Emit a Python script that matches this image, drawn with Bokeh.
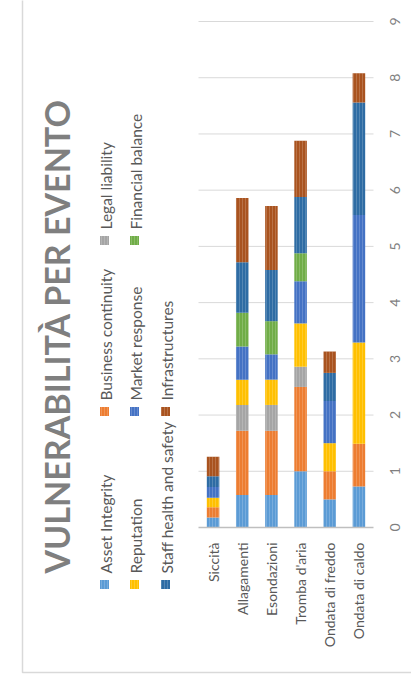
import math
from bokeh.plotting import figure
from bokeh.models import Range1d, ColumnDataSource
from bokeh.core.properties import value
from bokeh.embed import file_html
from bokeh.resources import INLINE

# ---------------- data ----------------
categories = ["Siccità", "Allagamenti", "Esondazioni", "Tromba d'aria",
              "Ondata di freddo", "Ondata di caldo"]
series_names = ["Asset Integrity", "Business continuity", "Legal liability",
                "Reputation", "Market response", "Financial balance",
                "Staff health and safety", "Infrastructures"]
asset_integrity = [0.18, 0.58, 0.58, 1.00, 0.50, 0.73]
business_continuity = [0.18, 1.14, 1.14, 1.50, 0.50, 0.76]
legal_liability = [0.00, 0.46, 0.46, 0.36, 0.00, 0.00]
reputation = [0.17, 0.45, 0.45, 0.77, 0.50, 1.80]
market_response = [0.19, 0.59, 0.45, 0.75, 0.75, 2.27]
financial_balance = [0.00, 0.60, 0.59, 0.50, 0.00, 0.00]
staff_health = [0.19, 0.90, 0.91, 1.00, 0.50, 2.00]
infrastructures = [0.35, 1.14, 1.14, 1.00, 0.38, 0.52]
value_ticks = [0, 1, 2, 3, 4, 5, 6, 7, 8, 9]
value_tick_labels = ["0", "1", "2", "3", "4", "5", "6", "7", "8", "9"]
title_text = "VULNERABILITÀ PER EVENTO"

colors = ["#5b9bd5", "#ed7d31", "#a5a5a5", "#ffc000",
          "#4472c4", "#70ad47", "#2e6ca4", "#a9531f"]

# ---------------- layout (pixels) ----------------
W, H = 411, 681
FL, FR, FT, FB = 198, 373, 21, 527          # plotting area of the bars
n = len(categories)
ux = (FR - FL) / n                          # px per category
uy = (FB - FT) / value_ticks[-1]            # px per value unit
x0 = -0.5 - FL / ux
x1 = n - 0.5 + (W - FR) / ux
y0 = -(H - FB) / uy
y1 = value_ticks[-1] + FT / uy


def dx(px):
    return x0 + px / ux


def dy(py):
    return y1 - py / uy


idx = list(range(n))
keys = ["s%d" % i for i in range(8)]
data = dict(x=idx)
for k, vals in zip(keys, [asset_integrity, business_continuity, legal_liability,
                          reputation, market_response, financial_balance,
                          staff_health, infrastructures]):
    data[k] = vals
src = ColumnDataSource(data)

p = figure(width=W, height=H, x_range=Range1d(x0, x1), y_range=Range1d(y0, y1),
           output_backend="svg", toolbar_location=None,
           min_border=0, min_border_left=0, min_border_right=0,
           min_border_top=0, min_border_bottom=0)
p.axis.visible = False
p.grid.visible = False
p.outline_line_color = None
p.background_fill_color = "white"
p.border_fill_color = "white"

# outer chart border
p.line(x=[dx(22), dx(22), dx(W + 5)], y=[dy(-5), dy(672), dy(672)],
       line_color="#d9d9d9", line_width=1.5)

# gridlines
p.segment(x0=[-0.5] * len(value_ticks[1:]), x1=[n - 0.5] * len(value_ticks[1:]),
          y0=value_ticks[1:], y1=value_ticks[1:], line_color="#d9d9d9", line_width=1)

# bars
p.vbar_stack(keys, x="x", width=0.43, source=src, color=colors,
             line_color=None, hatch_pattern="vertical_line",
             hatch_color="white", hatch_alpha=0.18, hatch_scale=3,
             hatch_weight=1)

# category axis line
p.segment(x0=[-0.5], x1=[n - 0.5], y0=[0], y1=[0], line_color="#bfbfbf",
          line_width=1.5)

# category labels
p.text(x=idx, y=[dy(FB + 15)] * n, text=categories, angle=math.pi / 2,
       text_align="right", text_baseline="middle", text_font=value("Lato"),
       text_font_size="14px", text_color="#595959")

# value labels
p.text(x=[dx(394)] * len(value_ticks), y=value_ticks, text=value_tick_labels,
       angle=math.pi / 2, text_align="center", text_baseline="middle",
       text_font=value("Lato"), text_font_size="14px", text_color="#7f7f7f")

# title (rotated)
p.text(x=[dx(56)], y=[dy(573)], text=[title_text], angle=math.pi / 2,
       text_align="left", text_baseline="middle", text_font=value("Lato"),
       text_font_style="bold", text_font_size="34px", text_color="#7f7f7f")

# legend (rotated)
col_x = [105, 135, 166]
row_y = [584, 411, 240]
lx, ly, tx, ty = [], [], [], []
for i, name in enumerate(series_names):
    c, r = i // 3, i % 3
    lx.append(dx(col_x[c] - 1))
    ly.append(dy(row_y[r]))
    tx.append(dx(col_x[c]))
    ty.append(dy(row_y[r] - 11))
p.rect(x=lx, y=ly, width=9, height=9, width_units="screen", height_units="screen",
       fill_color=colors, line_color=None, hatch_pattern="vertical_line",
       hatch_color="white", hatch_alpha=0.18, hatch_scale=3, hatch_weight=1)
p.text(x=tx, y=ty, text=series_names, angle=math.pi / 2, text_align="left",
       text_baseline="middle", text_font=value("Lato"), text_font_size="15.5px",
       text_color="#595959")

open("out.html", "w").write(file_html(p, INLINE))
